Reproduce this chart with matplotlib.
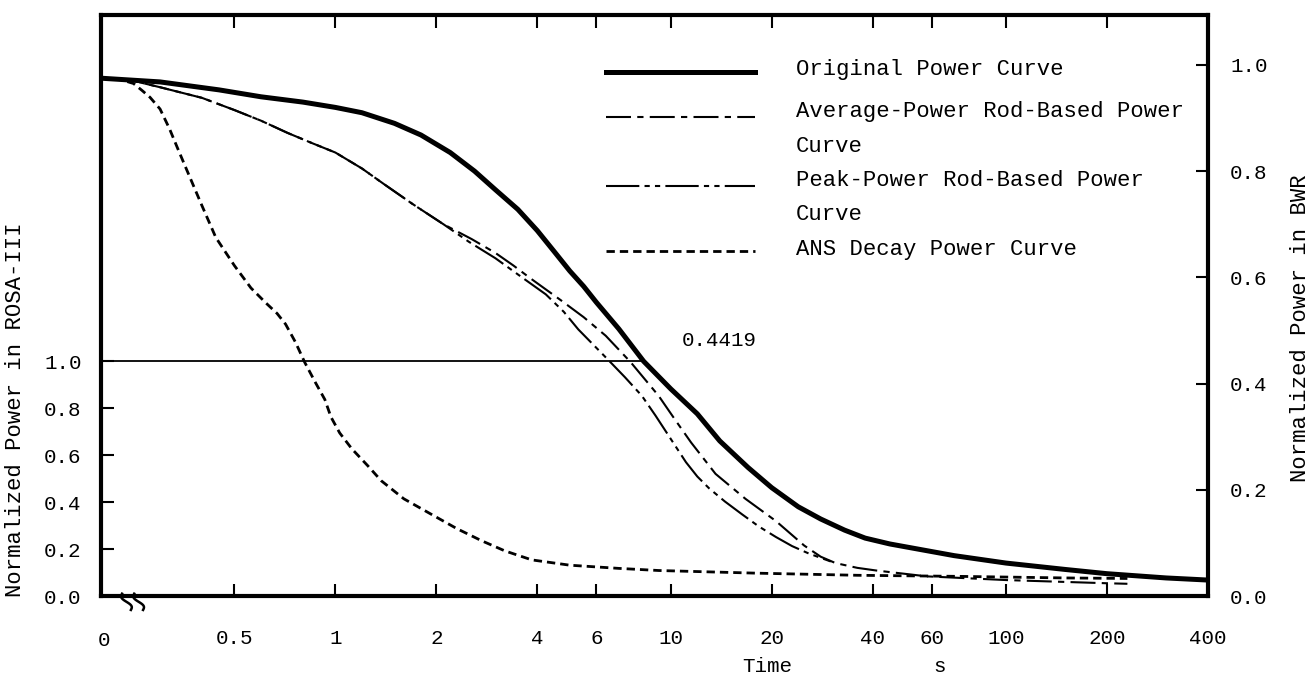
import numpy as np
import matplotlib
matplotlib.use("Agg")
import matplotlib.pyplot as plt

# time in s, 0 is drawn at the broken left end of the log axis
T_ZERO = 0.2

orig_t = [0, 0.3, 0.45, 0.6, 0.8, 1.0, 1.2, 1.5, 1.8, 2.2, 2.6, 3.0, 3.5, 4.0, 4.5,
          5.0, 5.5, 6.0, 7.0, 8.3, 10, 12, 14, 17, 20, 24, 28, 33, 38, 45, 55, 70,
          100, 150, 200, 300, 400]
orig_p = [0.975, 0.968, 0.953, 0.94, 0.93, 0.92, 0.91, 0.89, 0.868, 0.835, 0.8, 0.765,
          0.728, 0.688, 0.648, 0.612, 0.583, 0.553, 0.503, 0.442, 0.39, 0.343, 0.292,
          0.242, 0.204, 0.168, 0.145, 0.124, 0.109, 0.098, 0.088, 0.076, 0.062, 0.05,
          0.042, 0.034, 0.03]

avg_t = [0, 0.25, 0.3, 0.4, 0.5, 0.6, 0.72, 0.85, 1.0, 1.2, 1.4, 1.7, 2.1, 2.55, 3.0,
         3.4, 3.8, 4.7, 5.5, 6.4, 7.6, 9.2, 10.3, 11.5, 13.6, 16.7, 20.6, 25, 28, 31,
         36, 41, 58, 100, 200, 230]
avg_p = [0.975, 0.97, 0.958, 0.938, 0.915, 0.895, 0.872, 0.853, 0.835, 0.805, 0.775,
         0.738, 0.7, 0.672, 0.646, 0.622, 0.599, 0.557, 0.525, 0.49, 0.44, 0.377,
         0.332, 0.289, 0.23, 0.183, 0.141, 0.095, 0.074, 0.062, 0.053, 0.048, 0.037,
         0.03, 0.024, 0.023]

peak_t = [0, 0.25, 0.3, 0.4, 0.5, 0.6, 0.72, 0.85, 1.0, 1.2, 1.4, 1.7, 2.1, 2.5, 3.0,
          3.6, 4.24, 4.8, 5.3, 5.9, 6.5, 7.3, 8.2, 9.0, 9.9, 11.1, 12, 13, 14.5, 16.3,
          18.3, 20.6, 23, 25.8, 30]
peak_p = [0.975, 0.97, 0.958, 0.938, 0.915, 0.895, 0.872, 0.853, 0.835, 0.805, 0.775,
          0.738, 0.7, 0.667, 0.636, 0.6, 0.568, 0.535, 0.502, 0.472, 0.445, 0.412,
          0.377, 0.34, 0.3, 0.252, 0.225, 0.203, 0.178, 0.154, 0.131, 0.111, 0.094,
          0.08, 0.065]

ans_t = [0, 0.23, 0.25, 0.265, 0.28, 0.30, 0.32, 0.34, 0.36, 0.40, 0.44, 0.5, 0.56,
         0.62, 0.67, 0.71, 0.76, 0.81, 0.87, 0.93, 0.97, 1.03, 1.12, 1.25, 1.37, 1.6,
         1.93, 2.3, 2.73, 3.2, 3.85, 5.0, 7.0, 9.2, 18, 36, 72, 150, 230]
ans_p = [0.975, 0.972, 0.965, 0.952, 0.939, 0.917, 0.88, 0.84, 0.803, 0.735, 0.675,
         0.622, 0.58, 0.552, 0.532, 0.512, 0.478, 0.44, 0.403, 0.37, 0.337, 0.307,
         0.277, 0.245, 0.217, 0.183, 0.154, 0.127, 0.104, 0.085, 0.068, 0.058, 0.052,
         0.048, 0.043, 0.039, 0.037, 0.034, 0.033]

# ROSA-III scale: 1.0 on the left equals 0.4419 on the BWR scale
RATIO = 0.4419
cross_t = 8.3

x_ticks = [0.5, 1, 2, 4, 6, 10, 20, 40, 60, 100, 200, 400]
x_labels = ["0.5", "1", "2", "4", "6", "10", "20", "40", "60", "100", "200", "400"]
left_vals = [0.0, 0.2, 0.4, 0.6, 0.8, 1.0]
right_vals = [0.0, 0.2, 0.4, 0.6, 0.8, 1.0]

plt.rcParams['font.family'] = ['Liberation Mono', 'DejaVu Sans Mono']

def tx(t):
    t = np.asarray(t, dtype=float)
    return np.where(t == 0, T_ZERO, t)

TOP, BOT = 15, 596   # pixel rows of the frame
fig = plt.figure(figsize=(13.16, 6.83), dpi=100)
ax = fig.add_axes([101/1316, 1 - BOT/683, 1107/1316, (BOT - TOP)/683])
ax.set_xscale('log')
ax.set_xlim(T_ZERO, 400)
ax.set_ylim(0, 1.094)

ls_avg = (0, (12, 3, 3, 3))
ls_peak = (0, (16, 2.5, 2.5, 2.5, 2.5, 2.5))
ls_ans = (0, (3, 1.8))

ax.plot(tx(orig_t), orig_p, color='black', lw=3.6, solid_capstyle='round')
ax.plot(tx(avg_t), avg_p, color='black', lw=1.5, linestyle=ls_avg)
ax.plot(tx(peak_t), peak_p, color='black', lw=1.5, linestyle=ls_peak)
ax.plot(tx(ans_t), ans_p, color='black', lw=2.0, linestyle=ls_ans)

# ROSA 1.0 line up to the original curve
ax.plot([T_ZERO, cross_t], [RATIO, RATIO], color='black', lw=1.3)
ax.text(10.8, RATIO + 0.022, "0.4419", fontsize=15, ha='left', va='bottom')

for sp in ax.spines.values():
    sp.set_linewidth(3)

ax.set_xticks(x_ticks)
ax.set_xticklabels(x_labels, fontsize=15)
ax.xaxis.set_minor_locator(plt.NullLocator())
ax.tick_params(axis='x', which='major', direction='in', length=9, width=1.5,
               top=True, pad=24)
ax.set_yticks([v * RATIO for v in left_vals])
ax.set_yticklabels(["%.1f" % v for v in left_vals], fontsize=15)
ax.tick_params(axis='y', direction='in', length=9, width=1.5, pad=14)

ax2 = ax.twinx()
ax2.set_ylim(ax.get_ylim())
ax2.set_yticks(right_vals)
ax2.set_yticklabels(["%.1f" % v for v in right_vals], fontsize=15)
ax2.tick_params(axis='y', direction='in', length=9, width=1.5, pad=16)
for sp in ax2.spines.values():
    sp.set_visible(False)

# "0" at the broken origin
fig.text(104/1316, 1 - 640/683, "0", fontsize=15, ha='center', va='center')

# break marks on the time axis
trans = ax.transAxes
s = np.linspace(-1, 1, 30)
for x0 in [0.023, 0.034]:
    bx = x0 + 0.004 * s + 0.0025 * np.sin(np.pi * s)
    by = -0.01 - 0.014 * s
    ax.plot(bx, by, color='black', lw=1.8, transform=trans, clip_on=False)

# legend drawn by hand (pixel rows of the reference)
def ay(py):
    return 1 - (py - TOP) / (BOT - TOP)

leg_x0, leg_x1, txt_x = 0.456, 0.591, 0.628
leg_lines = [(72, '-', 3.6), (117, ls_avg, 1.5), (186, ls_peak, 1.5), (251, ls_ans, 2.0)]
for py, ls, lw in leg_lines:
    ax.plot([leg_x0, leg_x1], [ay(py), ay(py)], color='black', linestyle=ls, lw=lw,
            transform=trans)
leg_rows = [(69, "Original Power Curve"), (111, "Average-Power Rod-Based Power"),
            (146, "Curve"), (180, "Peak-Power Rod-Based Power"), (214, "Curve"),
            (249, "ANS Decay Power Curve")]
for py, txt in leg_rows:
    ax.text(txt_x, ay(py), txt, transform=trans, fontsize=16, va='center')

fig.text(16/1316, 1 - 410/683, "Normalized Power in ROSA-III", rotation=90,
         fontsize=16, ha='center', va='center')
fig.text(1300/1316, 1 - 328/683, "Normalized Power in BWR", rotation=90,
         fontsize=16, ha='center', va='center')
fig.text(767/1316, 1 - 667/683, "Time", fontsize=15, ha='center', va='center')
fig.text(940/1316, 1 - 667/683, "s", fontsize=15, ha='center', va='center')

fig.savefig("out.png", dpi=100)
